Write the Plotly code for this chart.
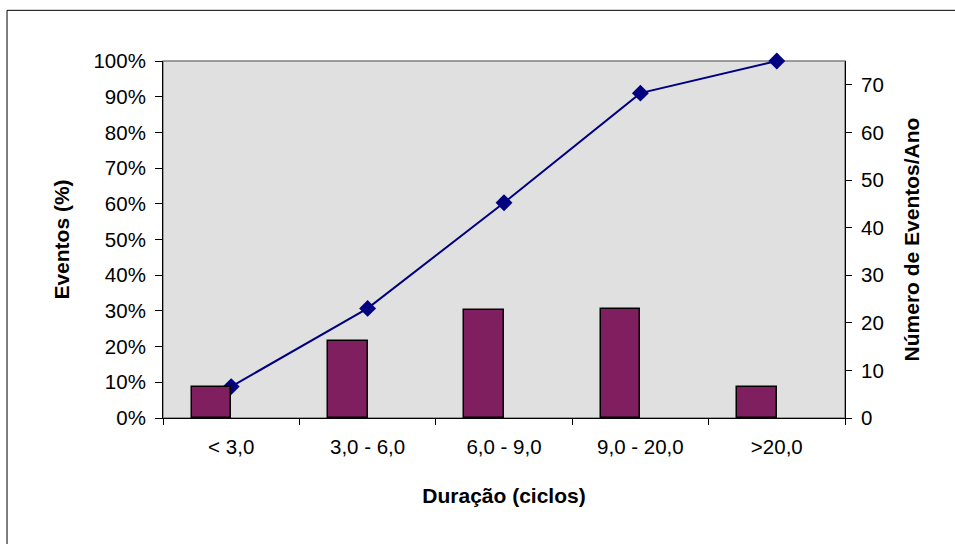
import plotly.graph_objects as go

categories = ["< 3,0", "3,0 - 6,0", "6,0 - 9,0", "9,0 - 20,0", ">20,0"]
eventos_ano = [6.5, 16.2, 22.6, 23.0, 6.5]          # right axis (Número de Eventos/Ano)
eventos_pct = [0.088, 0.307, 0.603, 0.910, 1.000]   # left axis, cumulative (%)
pct_ticks = [0, 0.1, 0.2, 0.3, 0.4, 0.5, 0.6, 0.7, 0.8, 0.9, 1.0]
num_ticks = [0, 10, 20, 30, 40, 50, 60, 70]

FONT = "Liberation Sans, Arial, sans-serif"

fig = go.Figure()
fig.add_trace(go.Bar(
    x=categories, y=eventos_ano, yaxis="y2",
    width=0.29, offset=-0.29,
    marker=dict(color="#801F5F", line=dict(color="black", width=1.5)),
    showlegend=False,
))
fig.add_trace(go.Scatter(
    x=categories, y=eventos_pct, yaxis="y",
    mode="lines+markers", cliponaxis=False,
    line=dict(color="#000080", width=2),
    marker=dict(symbol="diamond", size=13, color="#000080"),
    showlegend=False,
))

fig.update_layout(
    width=955, height=544,
    margin=dict(l=163, r=110, t=61, b=126),
    paper_bgcolor="white",
    plot_bgcolor="#E0E0E0",
    font=dict(family=FONT, size=20.5, color="black"),
    bargap=0,
    xaxis=dict(
        type="category", tickson="boundaries", ticks="outside", ticklen=6,
        tickcolor="black", showline=True, linecolor="black", linewidth=1,
        showgrid=False, zeroline=False, ticklabelstandoff=10,
        title=dict(text="<b>Duração (ciclos)</b>", standoff=31,
                   font=dict(size=21)),
    ),
    yaxis=dict(
        range=[0, 1], tickvals=pct_ticks, tickformat=".0%",
        ticks="outside", ticklen=7, tickcolor="black",
        showline=True, linecolor="black", linewidth=1,
        showgrid=False, zeroline=False, ticklabelstandoff=5,
        title=dict(text="<b>Eventos (%)</b>", standoff=18, font=dict(size=21)),
    ),
    yaxis2=dict(
        overlaying="y", side="right", range=[0, 75], tickvals=num_ticks,
        ticks="outside", ticklen=6, tickcolor="black",
        showline=True, linecolor="black", linewidth=1,
        showgrid=False, zeroline=False, ticklabelstandoff=5,
        title=dict(text="<b>Número de Eventos/Ano</b>", standoff=21,
                   font=dict(size=21)),
    ),
    shapes=[
        dict(type="rect", xref="paper", yref="paper", x0=0, x1=1, y0=0, y1=1,
             line=dict(color="#808080", width=1.5), layer="below"),
        # outer chart frame: top and left edges (others lie outside the picture)
        dict(type="line", xref="paper", yref="paper",
             x0=-0.2287, x1=1.2, y0=1.1419, y1=1.1419,
             line=dict(color="black", width=1), layer="below"),
        dict(type="line", xref="paper", yref="paper",
             x0=-0.2287, x1=-0.2287, y0=-0.4, y1=1.1419,
             line=dict(color="black", width=1), layer="below"),
    ],
)

fig.write_html(
    "out.html",
    config={"displayModeBar": False},
    post_script="document.body.style.margin='0';document.body.style.overflow='hidden';",
)
